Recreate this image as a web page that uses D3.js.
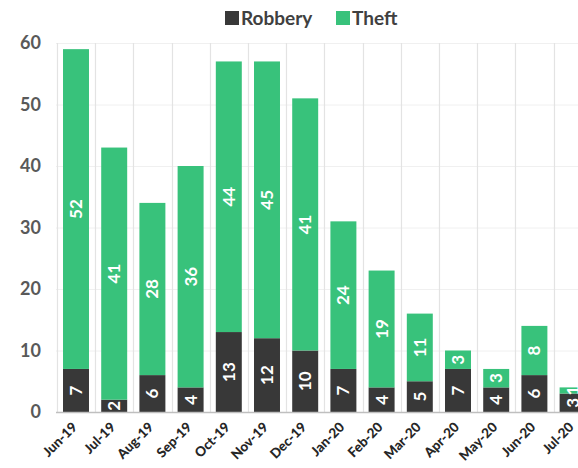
<!DOCTYPE html>
<html>
<head>
<meta charset="utf-8">
<script src="https://cdn.jsdelivr.net/npm/d3@7"></script>
<style>
  html, body { margin: 0; padding: 0; background: #fff; overflow: hidden; }
  svg { display: block; font-family: Lato, "Open Sans", sans-serif; }
</style>
</head>
<body>
<svg id="chart" width="578" height="468"></svg>
<script>
const categories = ["Jun-19","Jul-19","Aug-19","Sep-19","Oct-19","Nov-19","Dec-19","Jan-20","Feb-20","Mar-20","Apr-20","May-20","Jun-20","Jul-20"];
const robbery = [7, 2, 6, 4, 13, 12, 10, 7, 4, 5, 7, 4, 6, 3];
const theft   = [52, 41, 28, 36, 44, 45, 41, 24, 19, 11, 3, 3, 8, 1];
const seriesNames = ["Robbery", "Theft"];
const yTicks = [0, 10, 20, 30, 40, 50, 60];

const colors = { Robbery: "#383838", Theft: "#38c27b" };

const svg = d3.select("#chart");
const W = 578, H = 468;

const step = 38.2;
const x0 = 76 - step / 2;
const x = d3.scaleBand()
  .domain(categories)
  .range([x0, x0 + step * categories.length])
  .paddingInner(0.32)
  .paddingOuter(0.16);

const y = d3.scaleLinear().domain([0, 60]).range([412, 43]);

const rows = categories.map((c, i) => ({ cat: c, Robbery: robbery[i], Theft: theft[i] }));
const stacked = d3.stack().keys(seriesNames)(rows);

// grid
const grid = svg.append("g");
grid.selectAll("line.h").data(yTicks.slice(1)).join("line")
  .attr("x1", 56).attr("x2", W)
  .attr("y1", d => y(d) + 0.5).attr("y2", d => y(d) + 0.5)
  .attr("stroke", "#f0f0f0").attr("stroke-width", 1);
const edges = categories.map(c => x(c) - (x.step() - x.bandwidth()) / 2);
grid.selectAll("line.v").data(edges).join("line")
  .attr("x1", d => Math.round(d) + 0.5).attr("x2", d => Math.round(d) + 0.5)
  .attr("y1", 43).attr("y2", 412)
  .attr("stroke", "#e3e3e3").attr("stroke-width", 1.2);

// bars
const layers = svg.append("g").selectAll("g").data(stacked).join("g")
  .attr("fill", d => colors[d.key]);
layers.selectAll("rect").data(d => d).join("rect")
  .attr("x", d => x(d.data.cat))
  .attr("width", x.bandwidth())
  .attr("y", d => y(d[1]))
  .attr("height", d => y(d[0]) - y(d[1]));

// segment labels
const lab = svg.append("g");
stacked.forEach(layer => {
  layer.forEach(d => {
    const v = d[1] - d[0];
    const cx = x(d.data.cat) + x.bandwidth() / 2;
    const cy = (y(d[0]) + y(d[1])) / 2;
    lab.append("text")
      .attr("transform", `translate(${cx + 6},${cy}) rotate(-90)`)
      .attr("text-anchor", "middle")
      .attr("fill", "#fff")
      .attr("font-weight", 700)
      .attr("font-size", 17)
      .text(v);
  });
});

// axis baseline
svg.append("line")
  .attr("x1", 56).attr("x2", W)
  .attr("y1", 412.5).attr("y2", 412.5)
  .attr("stroke", "#bfbfbf").attr("stroke-width", 1.5);

// y axis labels
const yAxis = d3.axisLeft(y).tickValues(yTicks).tickSize(0).tickPadding(0);
const yg = svg.append("g").attr("transform", "translate(41,0)").call(yAxis);
yg.select(".domain").remove();
yg.selectAll("text")
  .attr("font-family", "Lato, 'Open Sans', sans-serif")
  .attr("font-size", 18).attr("font-weight", 700).attr("fill", "#595959");

// x axis labels
const xAxis = d3.axisBottom(x).tickSize(0).tickPadding(0);
const xg = svg.append("g").attr("transform", "translate(0,412)").call(xAxis);
xg.select(".domain").remove();
xg.selectAll("text")
  .attr("font-family", "Lato, 'Open Sans', sans-serif")
  .attr("font-size", 13.5).attr("font-weight", 900).attr("fill", "#262626")
  .attr("text-anchor", "end")
  .attr("dy", 0)
  .attr("transform", "translate(2,16) rotate(-45)");

// legend
const legend = svg.append("g").attr("transform", "translate(225,9)");
const items = [{ k: "Robbery", x: 0 }, { k: "Theft", x: 111 }];
items.forEach(it => {
  legend.append("rect").attr("x", it.x).attr("y", 2).attr("width", 14).attr("height", 14).attr("fill", colors[it.k]);
  legend.append("text").attr("x", it.x + 16).attr("y", 16)
    .attr("font-size", 19).attr("font-weight", 700).attr("fill", "#404040")
    .text(it.k);
});
</script>
</body>
</html>
